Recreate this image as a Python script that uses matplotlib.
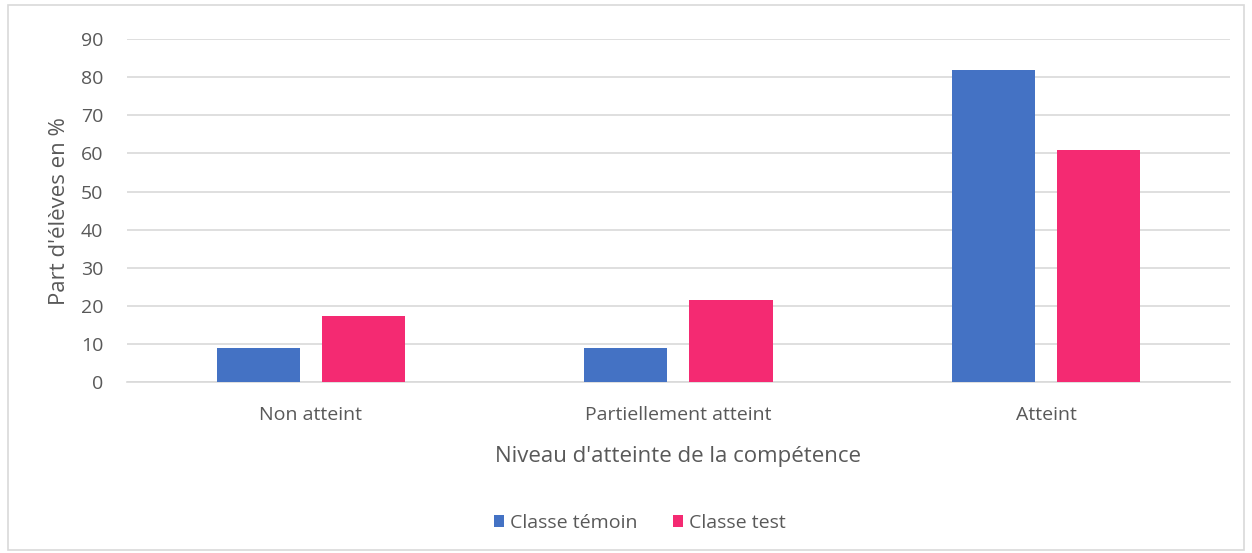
import matplotlib.pyplot as plt
import numpy as np
from matplotlib.patches import Rectangle

categories = ["Non atteint", "Partiellement atteint", "Atteint"]
temoin = [9.1, 9.1, 81.8]
test = [17.4, 21.7, 60.9]
series_names = ["Classe témoin", "Classe test"]

BLUE = "#4472c4"
PINK = "#f42a72"
TEXT = "#595959"
GRID = "#d9d9d9"

plt.rcParams['font.family'] = ['Open Sans', 'DejaVu Sans']

fig = plt.figure(figsize=(12.52, 5.53), dpi=100)
ax = fig.add_axes([0.1014, 0.3087, 0.881, 0.6208])

x = np.arange(len(categories))
w = 0.226
gap = 0.06
ax.bar(x - (w + gap) / 2, temoin, w, color=BLUE, label=series_names[0], zorder=3)
ax.bar(x + (w + gap) / 2, test, w, color=PINK, label=series_names[1], zorder=3)

ax.set_xlim(-0.5, 2.5)
ax.set_ylim(0, 90)
ax.set_yticks(range(0, 91, 10))
ax.yaxis.grid(True, color=GRID, linewidth=1.2, zorder=0)
ax.set_axisbelow(True)
for s in ["top", "right", "left"]:
    ax.spines[s].set_visible(False)
ax.spines["bottom"].set_color(GRID)
ax.spines["bottom"].set_linewidth(1.2)
ax.tick_params(length=0, labelsize=14, labelcolor=TEXT)
ax.tick_params(axis="y", pad=17)
ax.tick_params(axis="x", pad=17)
ax.set_xticks(x)
ax.set_xticklabels(categories)

ax.set_ylabel("Part d'élèves en %", fontsize=16, color=TEXT, labelpad=8)
ax.set_xlabel("Niveau d'atteinte de la compétence", fontsize=16, color=TEXT, labelpad=16)

ax.legend(loc="center", bbox_to_anchor=(0.465, -0.41), ncol=2, frameon=False,
          fontsize=14, labelcolor=TEXT, handlelength=0.55, handleheight=0.55,
          handletextpad=0.3, columnspacing=1.8)

fig.patches.append(Rectangle((0.006, 0.006), 0.988, 0.985, transform=fig.transFigure,
                             fill=False, edgecolor=GRID, linewidth=1.2))

fig.savefig("out.png", dpi=100)
